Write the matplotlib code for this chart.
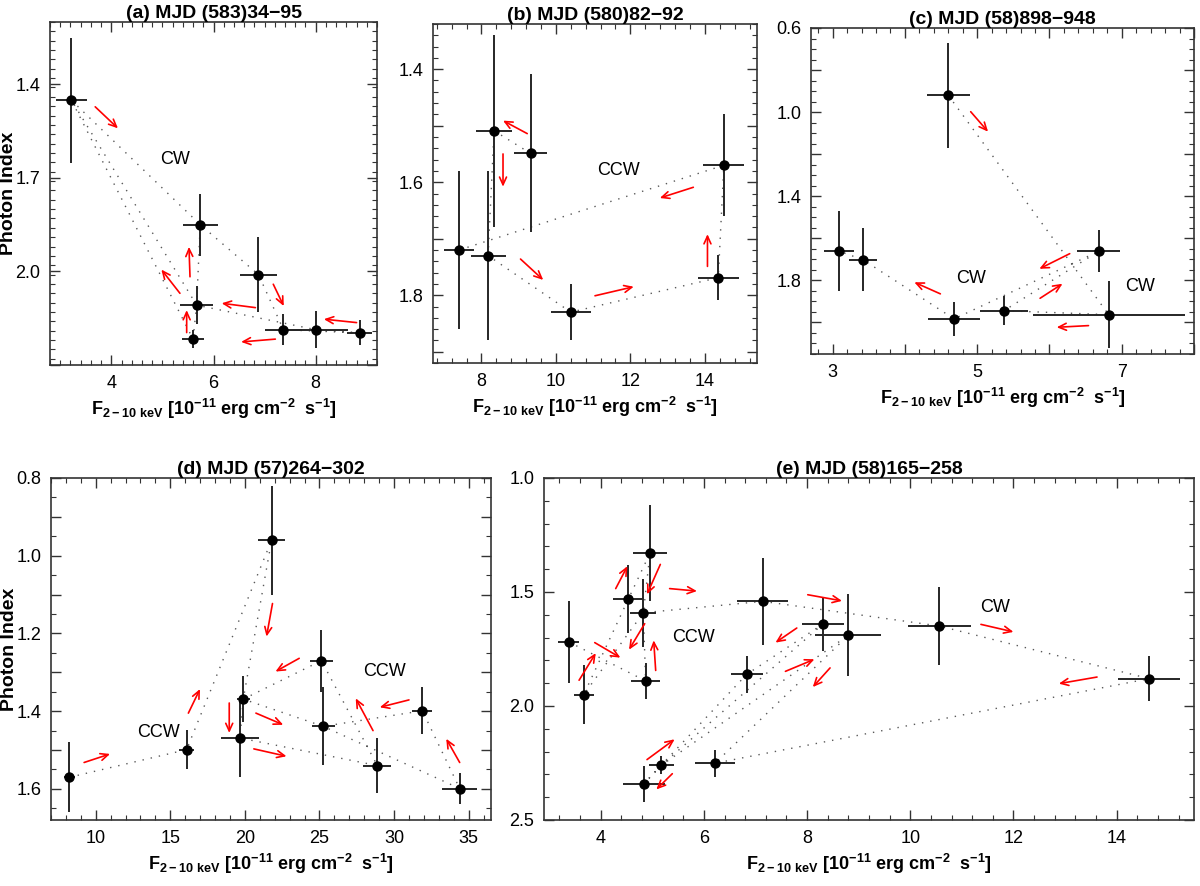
import matplotlib
matplotlib.use('Agg')
import matplotlib.pyplot as plt
from matplotlib.ticker import MultipleLocator, FuncFormatter

plt.rcParams['font.family'] = ['Liberation Sans', 'DejaVu Sans']
plt.rcParams['mathtext.fontset'] = 'custom'
plt.rcParams['mathtext.rm'] = 'Liberation Sans'
plt.rcParams['mathtext.bf'] = 'Liberation Sans:bold'
plt.rcParams['mathtext.default'] = 'bf'

# ---- panel (a) MJD (583)34-95
flux_a = [3.22, 5.74, 6.88, 5.67, 5.60, 7.37, 8.01, 8.86]
ferr_a = [0.31, 0.34, 0.37, 0.32, 0.21, 0.36, 0.63, 0.25]
gam_a = [1.451, 1.85, 2.01, 2.108, 2.217, 2.187, 2.187, 2.197]
gerr_a = [0.20, 0.10, 0.12, 0.06, 0.03, 0.05, 0.06, 0.04]
order_a = [0, 1, 2, 5, 7, 6, 3, 0, 4, 3, 1]
arrows_a = [(3.685, 1.472, 4.13, 1.541), (5.54, 2.017, 5.52, 1.921),
            (5.343, 2.07, 4.98, 1.994), (6.82, 2.116, 6.16, 2.102),
            (7.17, 2.041, 7.375, 2.111), (8.80, 2.164, 8.16, 2.153),
            (7.21, 2.217, 6.54, 2.226), (5.475, 2.196, 5.475, 2.124)]
notes_a = [(5.25, 1.64, 'CW')]

# ---- panel (b) MJD (580)82-92
flux_b = [7.40, 8.18, 8.34, 9.32, 10.40, 14.36, 14.51]
ferr_b = [0.40, 0.47, 0.48, 0.44, 0.54, 0.55, 0.55]
gam_b = [1.72, 1.73, 1.509, 1.549, 1.83, 1.769, 1.57]
gerr_b = [0.14, 0.15, 0.17, 0.14, 0.05, 0.04, 0.09]
order_b = [3, 2, 1, 4, 5, 6, 0]
arrows_b = [(9.23, 1.514, 8.58, 1.491), (8.58, 1.55, 8.58, 1.608),
            (9.05, 1.736, 9.66, 1.773), (11.05, 1.801, 12.09, 1.785),
            (14.07, 1.749, 14.07, 1.692), (13.69, 1.609, 12.79, 1.628)]
notes_b = [(11.67, 1.58, 'CCW')]

# ---- panel (c) MJD (58)898-948
flux_c = [3.09, 3.42, 4.60, 4.68, 5.37, 6.68, 6.82]
ferr_c = [0.205, 0.20, 0.295, 0.357, 0.33, 0.30, 1.05]
gam_c = [1.661, 1.702, 0.92, 1.983, 1.944, 1.662, 1.963]
gerr_c = [0.19, 0.15, 0.25, 0.08, 0.07, 0.10, 0.16]
order_c = [2, 6, 4, 5, 3, 1, 0]
arrows_c = [(4.91, 0.998, 5.15, 1.093), (6.28, 1.673, 5.86, 1.745),
            (5.87, 1.885, 6.18, 1.816), (6.54, 2.015, 6.10, 2.023),
            (4.49, 1.864, 4.13, 1.809)]
notes_c = [(4.91, 1.79, 'CW'), (7.26, 1.83, 'CW')]

# ---- panel (d) MJD (57)264-302
flux_d = [8.24, 16.09, 21.79, 19.89, 19.67, 25.13, 25.25, 28.88, 31.90, 34.40]
ferr_d = [0.40, 0.50, 0.90, 0.45, 1.28, 0.76, 0.78, 0.93, 0.67, 1.17]
gam_d = [1.570, 1.499, 0.960, 1.369, 1.469, 1.270, 1.439, 1.540, 1.399, 1.599]
gerr_d = [0.09, 0.05, 0.14, 0.06, 0.10, 0.08, 0.10, 0.07, 0.06, 0.04]
order_d = [0, 1, 2, 3, 4, 7, 5, 3, 6, 9, 8, 6]
arrows_d = [(9.22, 1.532, 10.96, 1.510), (16.21, 1.405, 16.99, 1.343),
            (21.85, 1.123, 21.45, 1.208), (23.64, 1.264, 22.05, 1.298),
            (18.95, 1.379, 18.95, 1.456), (20.74, 1.405, 22.57, 1.435),
            (20.60, 1.497, 22.79, 1.516), (28.59, 1.450, 27.43, 1.367),
            (31.00, 1.371, 29.04, 1.390), (34.40, 1.532, 33.50, 1.471)]
notes_d = [(14.2, 1.456, 'CCW'), (29.37, 1.298, 'CCW')]

# ---- panel (e) MJD (58)165-258
flux_e = [3.38, 3.67, 4.535, 4.955, 4.826, 4.87, 7.14, 6.83, 8.31, 8.80,
          4.832, 5.174, 6.213, 10.56, 14.63]
ferr_e = [0.20, 0.19, 0.29, 0.33, 0.25, 0.28, 0.49, 0.31, 0.40, 0.64,
          0.41, 0.24, 0.39, 0.61, 0.60]
gam_e = [1.719, 1.95, 1.531, 1.329, 1.591, 1.89, 1.541, 1.861, 1.64, 1.69,
         2.342, 2.26, 2.251, 1.649, 1.88]
gerr_e = [0.18, 0.13, 0.15, 0.21, 0.15, 0.08, 0.19, 0.08, 0.12, 0.18,
          0.08, 0.04, 0.06, 0.17, 0.10]
order_e = [0, 5, 4, 1, 2, 3, 4, 6, 13, 14, 12, 9, 11, 10, 7, 8, 11]
arrows_e = [(4.29, 1.485, 4.516, 1.387), (5.155, 1.379, 4.897, 1.51),
            (5.335, 1.485, 5.865, 1.496), (4.852, 1.639, 4.548, 1.753),
            (5.065, 1.844, 5.026, 1.712), (3.884, 1.722, 4.381, 1.788),
            (3.58, 1.887, 3.903, 1.768), (4.897, 2.235, 5.432, 2.146),
            (5.387, 2.297, 5.077, 2.366), (8.013, 1.512, 8.677, 1.539),
            (7.80, 1.658, 7.387, 1.722), (7.58, 1.848, 8.142, 1.795),
            (8.445, 1.833, 8.11, 1.917), (11.37, 1.642, 12.0, 1.675),
            (13.62, 1.873, 12.88, 1.902)]
notes_e = [(5.8, 1.70, 'CCW'), (11.64, 1.566, 'CW')]

xlabel = r'$F_{2-10\ keV}$ [10$^{-11}$ erg cm$^{-2}$  s$^{-1}$]'

W, H = 1200, 886
fig = plt.figure(figsize=(W / 100, H / 100), dpi=100)


def box(l, t, r, b):
    return [l / W, 1 - b / H, (r - l) / W, (b - t) / H]


def labeled(vals, fmt):
    def f(v, pos):
        for s in vals:
            if abs(v - s) < 1e-6:
                return fmt % s
        return ''
    return FuncFormatter(f)


def panel(rect, title, flux, ferr, gam, gerr, order, arrows, notes,
          xlim, ylim, xmaj, xmin, ymaj, ymin, xlab, ylab, yoff=0.0, ylabel_x=None):
    ax = fig.add_axes(rect)
    xs = [flux[i] for i in order]
    ys = [gam[i] for i in order]
    ax.plot(xs, ys, color='0.35', lw=1.0, ls=(0, (1, 5)), zorder=1)
    ax.errorbar(flux, gam, xerr=ferr, yerr=gerr, fmt='o', color='black',
                ecolor='0.15', elinewidth=1.4, ms=6.5, capsize=0, zorder=3)
    for x0, y0, x1, y1 in arrows:
        ax.annotate('', xy=(x1, y1), xytext=(x0, y0),
                    arrowprops=dict(arrowstyle='->,head_length=0.55,head_width=0.25',
                                    color='red', lw=1.2, shrinkA=0, shrinkB=0),
                    zorder=4)
    for x, y, s in notes:
        ax.text(x, y, s, fontsize=13, ha='center', va='center')
    ax.set_xlim(*xlim)
    ax.set_ylim(*ylim)
    ax.xaxis.set_major_locator(MultipleLocator(xmaj))
    ax.xaxis.set_minor_locator(MultipleLocator(xmin))
    ax.yaxis.set_major_locator(MultipleLocator(ymaj, offset=yoff))
    ax.yaxis.set_minor_locator(MultipleLocator(ymin))
    ax.xaxis.set_major_formatter(labeled(xlab, '%g'))
    ax.yaxis.set_major_formatter(labeled(ylab, '%.1f'))
    ax.tick_params(which='both', direction='in', top=True, right=True,
                   labelsize=13, color='0.2')
    ax.tick_params(which='major', length=7, width=1, pad=7)
    ax.tick_params(which='minor', length=3.5, width=0.8)
    for sp in ax.spines.values():
        sp.set_linewidth(1.2)
        sp.set_color('0.2')
    ax.set_title(title, fontsize=14, fontweight='bold', pad=3)
    ax.set_xlabel(xlabel, fontsize=13, fontweight='bold', labelpad=4)
    if ylabel_x is not None:
        ax.set_ylabel('Photon Index', fontsize=14, fontweight='bold',
                      va='center')
        ax.yaxis.set_label_coords(ylabel_x, 0.5)
    return ax


panel(box(50, 22, 377, 365), '(a) MJD (583)34\u221295',
      flux_a, ferr_a, gam_a, gerr_a, order_a, arrows_a, notes_a,
      (2.8, 9.2), (2.3, 1.2), 2, 0.2, 0.3, 0.03, [4, 6, 8], [1.4, 1.7, 2.0],
      yoff=0.2, ylabel_x=(9 - 50) / 327)
panel(box(433, 24, 757, 363), '(b) MJD (580)82\u221292',
      flux_b, ferr_b, gam_b, gerr_b, order_b, arrows_b, notes_b,
      (6.7, 15.4), (1.92, 1.32), 2, 0.4, 0.1, 0.02, [8, 10, 12, 14], [1.4, 1.6, 1.8])
panel(box(811, 28, 1194, 354), '(c) MJD (58)898\u2212948',
      flux_c, ferr_c, gam_c, gerr_c, order_c, arrows_c, notes_c,
      (2.7, 8.0), (2.15, 0.6), 1, 0.2, 0.2, 0.05, [3, 5, 7], [0.6, 1.0, 1.4, 1.8])
panel(box(51, 478, 491, 820), '(d) MJD (57)264\u2212302',
      flux_d, ferr_d, gam_d, gerr_d, order_d, arrows_d, notes_d,
      (7.0, 36.5), (1.68, 0.8), 5, 1, 0.1, 0.05, [10, 15, 20, 25, 30, 35],
      [0.8, 1.0, 1.2, 1.4, 1.6], ylabel_x=(9 - 51) / 440)
panel(box(544, 478, 1194, 820), '(e) MJD (58)165\u2212258',
      flux_e, ferr_e, gam_e, gerr_e, order_e, arrows_e, notes_e,
      (2.9, 15.5), (2.5, 1.0), 2, 0.4, 0.5, 0.1, [4, 6, 8, 10, 12, 14],
      [1.0, 1.5, 2.0, 2.5])

fig.savefig('out.png', dpi=100)
